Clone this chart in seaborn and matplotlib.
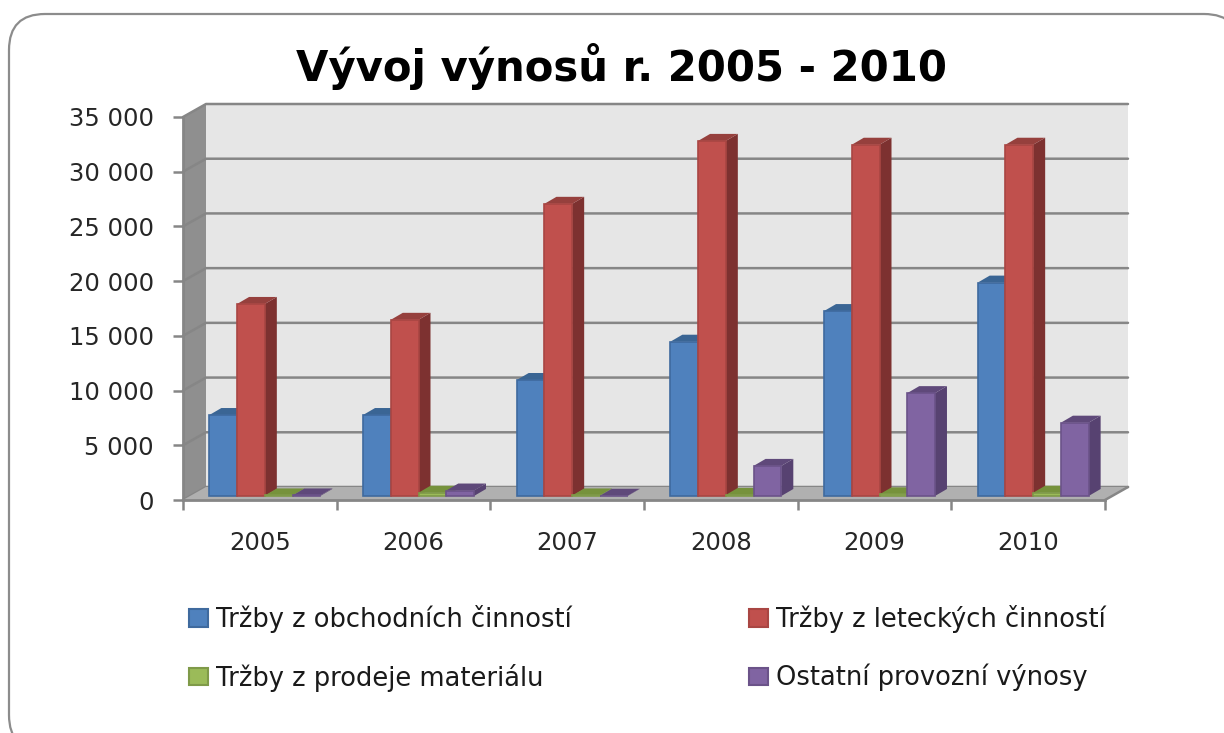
import matplotlib
matplotlib.use("Agg")
import matplotlib.pyplot as plt
import pandas as pd
import seaborn as sns
from matplotlib.patches import FancyBboxPatch, Patch, Polygon
from matplotlib.transforms import Affine2D, IdentityTransform


YEARS = ["2005", "2006", "2007", "2008", "2009", "2010"]
SERIES = [
    "Tržby z obchodních činností",
    "Tržby z leteckých činností",
    "Tržby z prodeje materiálu",
    "Ostatní provozní výnosy",
]
OBCHODNI = [7400, 7400, 10600, 14100, 16900, 19500]
LETECKE = [17550, 16100, 26700, 32450, 32100, 32100]
MATERIAL = [50, 300, 50, 100, 150, 300]
OSTATNI = [50, 500, 20, 2750, 9400, 6700]
Y_TICKS = [0, 5000, 10000, 15000, 20000, 25000, 30000, 35000]
Y_LABELS = ["0", "5 000", "10 000", "15 000", "20 000", "25 000", "30 000", "35 000"]

FRONT = ["#4f81bd", "#c0504d", "#9bbb59", "#8064a2"]
EDGE = ["#3f6a9e", "#a94643", "#7f9a49", "#6b5389"]
SIDE = ["#38608f", "#7d3130", "#66803a", "#574271"]
TOP = ["#3a6594", "#96403d", "#76923c", "#5f497a"]
AXIS_COLOR = "#868686"

W, H = 1224, 733
WALL_DX, WALL_DY = 23, 13
BAR_DX, BAR_DY = 5, 4
DEPTH_DX, DEPTH_DY = 12, 7


def px_poly(points, **kwargs):
    return Polygon(points, closed=True, transform=IdentityTransform(), clip_on=False, **kwargs)


# WALLS AND GRID
def draw_walls(ax):
    to_px = ax.transData.transform
    x0, x1 = ax.get_xlim()
    (left, bottom), (right, top) = to_px((x0, 0)), to_px((x1, 35000))

    ax.add_patch(px_poly(
        [(left + WALL_DX, bottom + WALL_DY), (right + WALL_DX, bottom + WALL_DY),
         (right + WALL_DX, top + WALL_DY), (left + WALL_DX, top + WALL_DY)],
        facecolor="#e6e6e6", edgecolor="none", zorder=0.1))
    ax.add_patch(px_poly(
        [(left, bottom), (left + WALL_DX, bottom + WALL_DY),
         (left + WALL_DX, top + WALL_DY), (left, top)],
        facecolor="#8f8f8f", edgecolor="none", zorder=0.2))
    ax.add_patch(px_poly(
        [(left, bottom), (right, bottom), (right + WALL_DX, bottom + WALL_DY),
         (left + WALL_DX, bottom + WALL_DY)],
        facecolor="#b0b0b0", edgecolor="none", zorder=0.4))

    grid_style = dict(color=AXIS_COLOR, lw=1.8, transform=IdentityTransform(), clip_on=False)
    for value in Y_TICKS:
        y = to_px((0, value))[1]
        ax.plot([left, left + WALL_DX, right + WALL_DX],
                [y, y + WALL_DY, y + WALL_DY], zorder=0.3, **grid_style)
    ax.plot([right, right + WALL_DX], [bottom, bottom + WALL_DY], zorder=0.5, **grid_style)


# 3D BAR FACES
def add_depth(ax):
    shift = Affine2D().translate(BAR_DX, BAR_DY)
    order = 2.0
    for i in range(len(YEARS)):
        for col, bars in enumerate(ax.containers):
            bar = bars[i]
            (x0, y0) = ax.transData.transform((bar.get_x(), 0))
            (x1, y1) = ax.transData.transform((bar.get_x() + bar.get_width(), bar.get_height()))
            x0, x1 = x0 + BAR_DX, x1 + BAR_DX
            y0, y1 = y0 + BAR_DY, y1 + BAR_DY
            ax.add_patch(px_poly(
                [(x1, y0), (x1 + DEPTH_DX, y0 + DEPTH_DY),
                 (x1 + DEPTH_DX, y1 + DEPTH_DY), (x1, y1)],
                facecolor=SIDE[col], edgecolor="none", zorder=order))
            ax.add_patch(px_poly(
                [(x0, y1), (x1, y1), (x1 + DEPTH_DX, y1 + DEPTH_DY),
                 (x0 + DEPTH_DX, y1 + DEPTH_DY)],
                facecolor=TOP[col], edgecolor="none", zorder=order + 0.01))
            bar.set_transform(ax.transData + shift)
            bar.set_clip_on(False)
            bar.set_facecolor(FRONT[col])
            bar.set_edgecolor(EDGE[col])
            bar.set_linewidth(1.2)
            bar.set_zorder(order + 0.02)
            order += 0.1


def main():
    df = pd.DataFrame({
        "Year": YEARS * 4,
        "Series": [name for name in SERIES for _ in YEARS],
        "Value": OBCHODNI + LETECKE + MATERIAL + OSTATNI,
    })

    sns.set_theme(style="white")
    plt.rcParams["font.family"] = ["DejaVu Sans"]

    fig = plt.figure(figsize=(W / 100, H / 100), dpi=100, facecolor="white")
    # filled, so Agg keeps the corner curves when the box runs off the canvas
    fig.add_artist(FancyBboxPatch(
        (9, -18), 1231, 737, boxstyle="round,pad=0,rounding_size=36",
        transform=IdentityTransform(), facecolor="white", edgecolor="#8c8c8c",
        linewidth=1.6, zorder=-1))

    ax = fig.add_axes([183 / W, 1 - 500 / H, 922 / W, 383 / H])
    ax.patch.set_visible(False)

    sns.barplot(data=df, x="Year", y="Value", hue="Series", hue_order=SERIES,
                palette=FRONT, width=0.722, gap=0, saturation=1, legend=False, ax=ax)
    ax.set_xlim(-0.5, 5.5)
    ax.set_ylim(0, 35000)
    ax.set_xlabel("")
    ax.set_ylabel("")

    draw_walls(ax)
    add_depth(ax)

    ax.set_yticks(Y_TICKS, Y_LABELS)
    ax.set_xticks(range(len(YEARS)), YEARS)
    ax.set_xticks([i - 0.5 for i in range(len(YEARS) + 1)], minor=True)
    ax.tick_params(axis="y", length=7, width=1.8, color=AXIS_COLOR, pad=14, labelsize=17.5, labelcolor="#262626", left=True)
    ax.tick_params(axis="x", which="major", length=0, pad=22, labelsize=17.5, labelcolor="#262626")
    ax.tick_params(axis="x", which="minor", length=7, width=1.8, color=AXIS_COLOR, bottom=True)
    sns.despine(ax=ax, top=True, right=True)
    for side in ["left", "bottom"]:
        ax.spines[side].set_color(AXIS_COLOR)
        ax.spines[side].set_linewidth(2)
        ax.spines[side].set_zorder(0.6)

    fig.text(621 / W, 1 - 66 / H, "Vývoj výnosů r. 2005 - 2010", ha="center", va="center",
             fontsize=30.2, fontweight="bold", color="black")

    handles = [Patch(facecolor=FRONT[i], edgecolor=EDGE[i], linewidth=1.5) for i in [0, 2, 1, 3]]
    labels = [SERIES[i] for i in [0, 2, 1, 3]]
    fig.legend(handles, labels, ncols=2, frameon=False, fontsize=18.5, labelcolor="#1a1a1a",
               loc="upper left", bbox_to_anchor=(189 / W, 1 - 605 / H), borderaxespad=0, borderpad=0,
               handlelength=0.75, handleheight=0.65, handletextpad=0.3,
               columnspacing=6.9, labelspacing=1.2)

    fig.savefig("out.png", dpi=100)


if __name__ == "__main__":
    main()
